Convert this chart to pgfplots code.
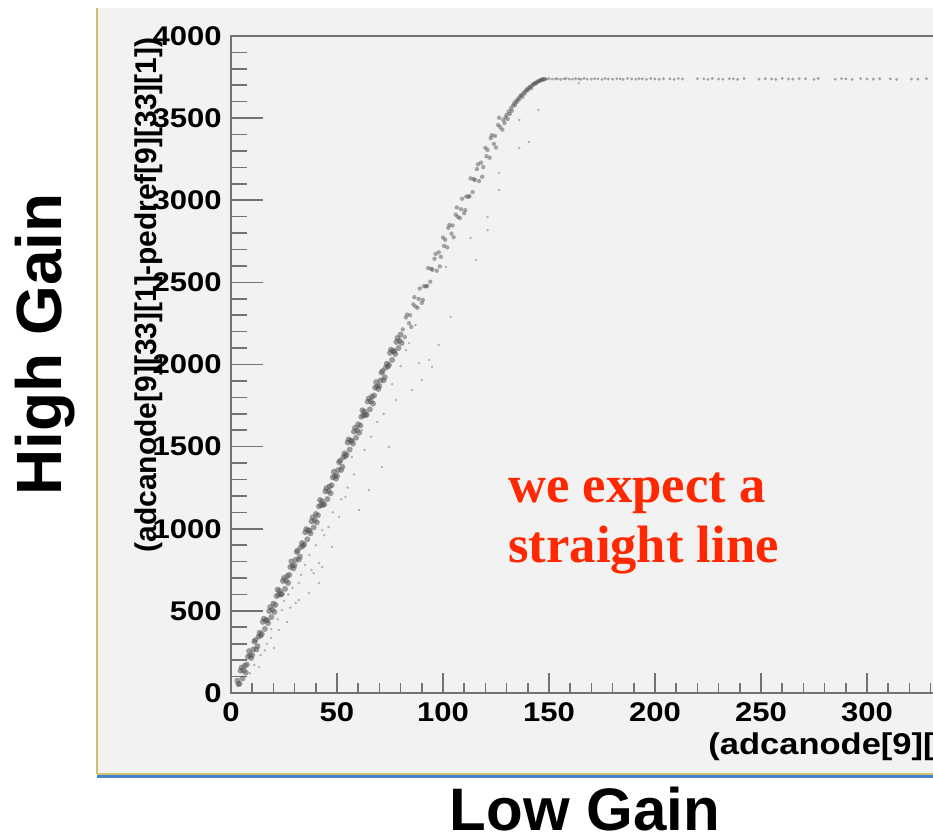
\documentclass[border=0pt]{standalone}
\usepackage{fontspec}
\setmainfont{Liberation Sans}
\newfontfamily\rootfont[FakeStretch=1.15]{Liberation Sans}
\newfontfamily\slidefont{Liberation Sans}
\newfontfamily\seriffont{Liberation Serif}
\usepackage{pgfplots}
\pgfplotsset{compat=1.18}

\definecolor{panel}{RGB}{242,242,242}
\definecolor{axisgray}{RGB}{115,115,115}
\definecolor{dotgray}{RGB}{85,85,85}
\definecolor{pptred}{RGB}{255,40,0}
\definecolor{edgeyellow}{RGB}{205,195,110}
\definecolor{edgeblue}{RGB}{70,130,205}

\begin{document}
\begin{tikzpicture}[x=1pt,y=1pt]
\path[use as bounding box] (-115.5,-73.5) rectangle (351,346.5);
\clip (-115.5,-73.5) rectangle (351,346.5);
\fill[white] (-115.5,-73.5) rectangle (351,346.5);
% screenshot panel
\fill[panel] (-67,-40.5) rectangle (351,342.5);
\draw[edgeyellow, line width=1pt] (-67,-40.5) -- (-67,342.5);
\draw[edgeyellow, line width=1pt] (-67,-40.5) -- (351,-40.5);
\draw[edgeblue, line width=1.5pt] (-67,-42) -- (351,-42);

\begin{axis}[
  at={(0,0)}, anchor=south west,
  width=424pt, height=328.5pt, scale only axis,
  xmin=0, xmax=400, ymin=0, ymax=4000,
  axis line style={axisgray, line width=1pt},
  tick align=inside,
  xtick pos=bottom, ytick pos=left,
  xtick={0,50,100,150,200,250,300,350},
  xticklabels={0,50,100,150,200,250,300,{}},
  ytick={0,500,...,4000},
  minor x tick num=4, minor y tick num=4,
  tick style={axisgray, line width=0.8pt},
  xtick style={/pgfplots/major tick length=10pt, /pgfplots/minor tick length=5pt},
  ytick style={/pgfplots/major tick length=16pt, /pgfplots/minor tick length=8pt},
  /pgf/number format/assume math mode=true,
  /pgf/number format/1000 sep={},
  ticklabel style={font=\rootfont\bfseries\fontsize{13.5}{15}\selectfont},
  xticklabel style={inner sep=0pt, anchor=north, yshift=-4.5pt},
  yticklabel style={inner sep=0pt, anchor=east, xshift=-4.5pt},
]
% main band, linear part
\addplot[only marks, mark=*, mark size=1.5pt, dotgray, mark options={draw opacity=0, fill opacity=0.55}] coordinates {
(3,75)(3.5,54)(4,57)(4.5,136)(5,155)(5.5,89)(6,137)(6.5,166)(7,124)(7.5,173)
(8,221)(8.5,255)(9,229)(9.5,213)(10,231)(10.5,265)(11,313)(11.5,322)(12,266)(12.5,285)
(13,343)(13.5,367)(14,350)(14.5,359)(15,433)(15.5,452)(16,390)(16.5,444)(17,442)(17.5,426)
(18,499)(18.5,523)(19,462)(19.5,506)(20,544)(20.5,493)(21,536)(21.5,590)(22,629)(22.5,598)
(23,621)(23.5,600)(24,603)(24.5,682)(25,700)(25.5,634)(26,683)(26.5,712)(27,670)(27.5,719)
(28,767)(28.5,801)(29,775)(29.5,759)(30,777)(30.5,811)(31,859)(31.5,868)(32,812)(32.5,831)
(33,889)(33.5,913)(34,896)(34.5,905)(35,979)(35.5,998)(36,936)(36.5,990)(37,988)(37.5,972)
(38,1045)(38.5,1069)(39,1008)(39.5,1052)(40,1090)(40.5,1039)(41,1082)(41.5,1136)(42,1175)(42.5,1144)
(43,1167)(43.5,1146)(44,1149)(44.5,1228)(45,1247)(45.5,1181)(46,1229)(46.5,1258)(47,1216)(47.5,1265)
(48,1313)(48.5,1347)(49,1321)(49.5,1305)(50,1323)(50.5,1357)(51,1405)(51.5,1414)(52,1358)(52.5,1377)
(53,1435)(53.5,1459)(54,1442)(54.5,1451)(55,1525)(55.5,1544)(56,1482)(56.5,1536)(57,1534)(57.5,1518)
(58,1591)(58.5,1615)(59,1554)(59.5,1598)(60,1636)(60.5,1585)(61,1628)(61.5,1682)(62,1721)(62.5,1690)
(63,1713)(63.5,1692)(64,1695)(64.5,1774)(65,1793)(65.5,1727)(66,1775)(66.5,1804)(67,1762)(67.5,1811)
(68,1859)(68.5,1893)(69,1867)(69.5,1851)(70,1869)(70.5,1903)(71,1951)(71.5,1960)(72,1904)(72.5,1923)
(73,1981)(73.5,2005)(74,1988)(74.5,1997)(75,2071)(75.5,2090)(76,2028)(76.5,2082)(77,2080)(77.5,2064)
(78,2137)(78.5,2161)(79,2100)(79.5,2144)(80,2182)(80.5,2131)
};
% main band, upper part
\addplot[only marks, mark=*, mark size=1.1pt, dotgray, mark options={draw opacity=0, fill opacity=0.5}] coordinates {
(81,2214)(82,2167)(82.5,2286)(83,2304)(84,2251)(84.5,2300)(85,2229)(86,2366)(86.5,2410)(87,2353)
(88,2345)(88.5,2399)(89,2463)(90,2375)(90.5,2394)(91,2477)(92,2475)(92.5,2479)(93,2587)(94,2504)
(94.5,2583)(95,2577)(96,2644)(96.5,2673)(97,2571)(98,2683)(98.5,2597)(99,2656)(100,2773)(100.5,2722)
(101,2760)(102,2713)(102.5,2832)(103,2850)(104,2797)(104.5,2846)(105,2775)(106,2912)(106.5,2956)(107,2899)
(108,2891)(108.5,2945)(109,3009)(110,2921)(110.5,2940)(111,3023)(112,3021)(112.5,3025)(113,3133)(114,3050)
(114.5,3129)(115,3123)(116,3190)(116.5,3219)(117,3117)(118,3229)(118.5,3143)(119,3202)(120,3319)(120.5,3268)
(121,3306)(122,3259)(122.5,3378)(123,3396)(124,3343)(124.5,3392)(125,3321)(126,3458)(126.5,3502)(127,3445)
(128,3430)(128.5,3489)
(129,3470)(129.5,3505)(130,3520)(130.5,3495)(131,3540)(131.5,3525)(132,3560)(132.5,3545)(133,3575)(133.5,3590)
(134,3580)(134.5,3605)(135,3600)(135.5,3620)(136,3615)(136.5,3635)(137,3640)(137.5,3630)(138,3655)(138.5,3650)
(139,3665)(139.5,3675)(140,3670)(140.5,3685)(141,3690)(141.5,3682)(142,3698)(142.5,3705)(143,3708)(143.5,3715)
(144,3712)(144.5,3722)(145,3724)(145.5,3728)(146,3730)(146.5,3733)(147,3736)(147.5,3735)(148,3738)
};
% saturation plateau
\addplot[only marks, mark=*, mark size=0.8pt, dotgray, mark options={draw opacity=0, fill opacity=0.5}] coordinates {
(149,3738)(150,3741)(151.5,3737)(153,3739)(154,3740)(155.5,3736)(157,3739)(158,3741)(159.5,3738)(161,3737)
(162.5,3740)(164,3739)(165,3736)(166.5,3741)(168,3738)(170,3737)(171.5,3740)(173,3739)(175,3736)(176.5,3741)
(178,3738)(180,3737)(182,3740)(183.5,3739)(185,3736)(187,3741)(189,3738)(191,3737)(192.5,3740)(194,3739)
(196,3736)(198,3741)(200,3738)(202,3737)(204,3740)(207,3739)(209,3736)(211,3741)(213,3738)(220,3740)
(223,3739)(225,3736)(227,3741)(230,3738)(232,3737)(235,3740)(237,3739)(239,3736)(242,3741)(249,3737)
(252,3740)(255,3739)(257,3736)(260,3741)(263,3738)(265,3737)(268,3740)(271,3739)(275,3736)(277,3741)
(285,3737)(288,3740)(290,3739)(293,3736)(297,3741)(300,3738)(303,3737)(306,3740)(311,3739)(314,3736)
(321,3738)(324,3737)(328,3740)
};
% scattered events below the band
\addplot[only marks, mark=*, mark size=0.7pt, dotgray, mark options={draw opacity=0, fill opacity=0.4}] coordinates {
(32,670)(36.8,609)(39,730)(26.4,432)(22.6,384)(20.3,274)(43,767)(30.5,548)(32,566)(13.2,158)
(18.9,335)(24,505)(41.5,670)(98,2119)(88.7,2009)(93.4,2027)(94.8,1985)(90,1906)(77.8,1784)(74.5,1498)
(71.2,1376)(65,1236)(60.4,1114)(51,1072)(54,1193)(43,992)(41.5,791)(47.6,889)(38,749)(57,1437)
(61.8,1601)(82.5,2088)(85.4,1845)(140.6,3355)(136,3318)(113,2770)(121,2818)(126.4,3062)(103.6,2290)(164,3714)
(121,2898)(126.4,3166)(145,3550)(136,3489)(115.6,2636)(101.4,2594)(9,120)(11,170)(16,260)(28,520)
(14,230)(17,300)(19,390)(22,450)(25,560)(27,600)(29,640)(33,720)(35,780)(37,840)
(40,900)(44,960)(46,1010)(48,1100)(52,1180)(55,1250)(58,1330)(63,1480)(66,1560)(69,1650)
(72,1700)(76,1880)(80,1990)(84,2130)(87,2240)
};
\end{axis}

% axis titles of the ROOT canvas
\node[rotate=90, anchor=base east, inner sep=0pt, font=\slidefont\bfseries\fontsize{15}{17}\selectfont]
  at (-37,328) {(adcanode[9][33][1]-pedref[9][33][1])};
\node[anchor=base west, inner sep=0pt, font=\rootfont\bfseries\fontsize{15}{17}\selectfont]
  at (238.5,-31) {(adcanode[9][33][0]-pedref[9][33][0])};

% slide annotations
\node[rotate=90, anchor=base, inner sep=0pt, font=\slidefont\bfseries\fontsize{32}{36}\selectfont]
  at (-84.5,174.25) {High Gain};
\node[anchor=base, inner sep=0pt, font=\slidefont\bfseries\fontsize{30}{34}\selectfont]
  at (177,-69) {Low Gain};
\node[anchor=base west, inner sep=0pt, text=pptred, font=\seriffont\bfseries\fontsize{26.3}{30}\selectfont]
  at (138.5,95) {we expect a};
\node[anchor=base west, inner sep=0pt, text=pptred, font=\seriffont\bfseries\fontsize{26.3}{30}\selectfont]
  at (138.5,65) {straight line};
\end{tikzpicture}
\end{document}
